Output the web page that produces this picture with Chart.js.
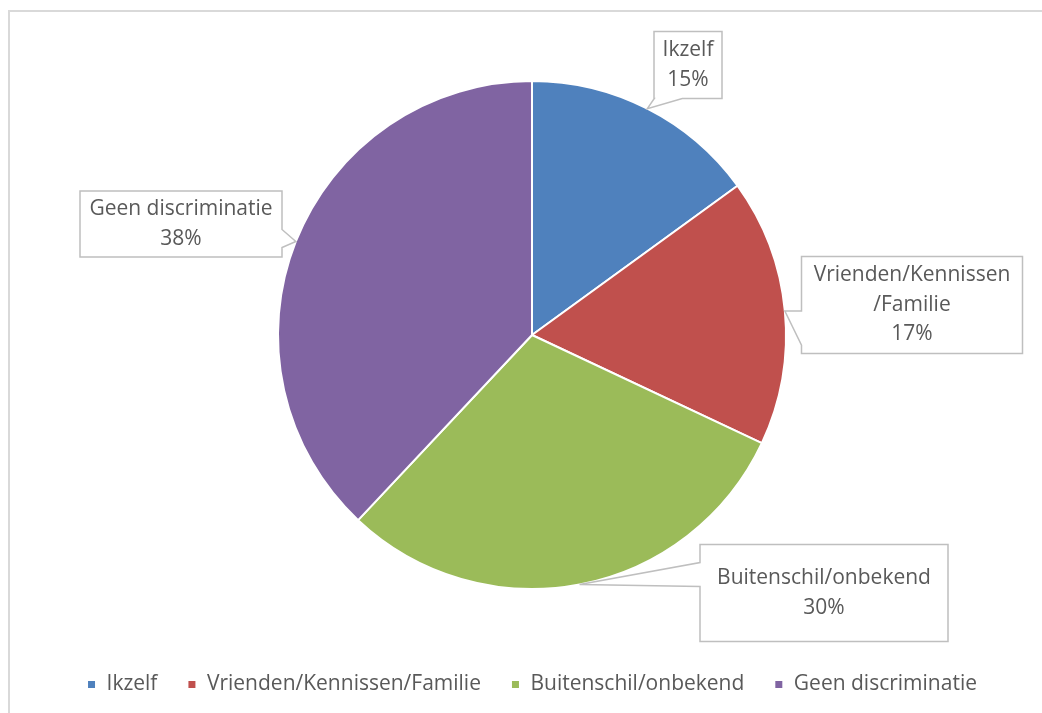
<!DOCTYPE html>
<html>
<head>
<meta charset="utf-8">
<script src="https://cdn.jsdelivr.net/npm/chart.js@4/dist/chart.umd.min.js"></script>
<style>
  html, body { margin: 0; padding: 0; background: #fff; overflow: hidden; }
  #frame { position: absolute; left: 8px; top: 10px; width: 1100px; height: 800px; border: 2px solid #d9d9d9; }
  #wrap { position: absolute; left: 0; top: 0; width: 1042px; height: 713px; }
</style>
</head>
<body>
<div id="frame"></div>
<div id="wrap"><canvas id="pie" width="1042" height="713"></canvas></div>
<script>
const categories = ["Ikzelf", "Vrienden/Kennissen/Familie", "Buitenschil/onbekend", "Geen discriminatie"];
const shares = [15, 17, 30, 38];
const sliceColors = ["#4f81bd", "#c0504d", "#9bbb59", "#8064a2"];

// callout boxes: centre offset from the pie centre, box size,
// wedge base shift (from the tip's projection) and wedge half width
const calloutLayout = [
  { dx: 156, dy: -270, w: 68, h: 67, ws: 21, wh: 14 },
  { dx: 380, dy: -30, w: 221, h: 97, ws: 17, wh: 17 },
  { dx: 292, dy: 258, w: 248, h: 97, ws: -10, wh: 12 },
  { dx: -351, dy: -111, w: 202, h: 66, ws: -3, wh: 9 },
];

const FONT = "'Open Sans', 'Noto Sans', sans-serif";
const TEXT = "#595959";

function wrapLabel(ctx, text, maxW) {
  const parts = text.split(/(?=\/)/);
  const lines = [];
  let cur = "";
  parts.forEach((p) => {
    if (cur && ctx.measureText(cur + p).width > maxW) {
      lines.push(cur);
      cur = p;
    } else {
      cur += p;
    }
  });
  if (cur) lines.push(cur);
  return lines;
}

const calloutPlugin = {
  id: "callouts",
  afterDatasetsDraw(chart) {
    const ctx = chart.ctx;
    const meta = chart.getDatasetMeta(0);
    const total = shares.reduce((a, b) => a + b, 0);
    ctx.save();
    ctx.font = "21px " + FONT;
    meta.data.forEach((arc, i) => {
      const lay = calloutLayout[i];
      const mid = (arc.startAngle + arc.endAngle) / 2;
      const tx = arc.x + Math.cos(mid) * arc.outerRadius;
      const ty = arc.y + Math.sin(mid) * arc.outerRadius;
      const cx = arc.x + lay.dx, cy = arc.y + lay.dy;
      const l = cx - lay.w / 2, r = cx + lay.w / 2, t = cy - lay.h / 2, b = cy + lay.h / 2;
      const half = lay.wh;

      // pick the side facing the tip and build the outline with a wedge
      const pts = [];
      if (ty > b) {
        const m = Math.min(Math.max(tx + lay.ws, l + half), r - half);
        pts.push([l, t], [r, t], [r, b], [m + half, b], [tx, ty], [m - half, b], [l, b]);
      } else if (ty < t) {
        const m = Math.min(Math.max(tx + lay.ws, l + half), r - half);
        pts.push([l, t], [m - half, t], [tx, ty], [m + half, t], [r, t], [r, b], [l, b]);
      } else if (tx < l) {
        const m = Math.min(Math.max(ty + lay.ws, t + half), b - half);
        pts.push([l, t], [r, t], [r, b], [l, b], [l, m + half], [tx, ty], [l, m - half]);
      } else {
        const m = Math.min(Math.max(ty + lay.ws, t + half), b - half);
        pts.push([l, t], [r, t], [r, m - half], [tx, ty], [r, m + half], [r, b], [l, b]);
      }
      ctx.beginPath();
      pts.forEach((p, k) => (k ? ctx.lineTo(p[0], p[1]) : ctx.moveTo(p[0], p[1])));
      ctx.closePath();
      ctx.fillStyle = "#ffffff";
      ctx.fill();
      ctx.lineWidth = 1.5;
      ctx.strokeStyle = "#bfbfbf";
      ctx.stroke();

      const pct = Math.round((shares[i] / total) * 100) + "%";
      const lines = wrapLabel(ctx, categories[i], lay.w - 10).concat([pct]);
      const lh = 29.5;
      ctx.fillStyle = TEXT;
      ctx.textAlign = "center";
      ctx.textBaseline = "middle";
      lines.forEach((ln, k) => {
        ctx.fillText(ln, cx, cy + (k - (lines.length - 1) / 2) * lh);
      });
    });
    ctx.restore();
  },
};

new Chart(document.getElementById("pie"), {
  type: "pie",
  data: {
    labels: categories,
    datasets: [
      {
        data: shares,
        backgroundColor: sliceColors,
        borderColor: "#ffffff",
        borderWidth: 2,
        radius: 254,
      },
    ],
  },
  options: {
    responsive: false,
    animation: false,
    layout: { padding: { top: 26, bottom: 8, left: 30, right: 8 } },
    plugins: {
      tooltip: { enabled: false },
      legend: {
        position: "bottom",
        labels: {
          boxWidth: 9,
          boxHeight: 9,
          padding: 30,
          color: TEXT,
          font: { family: FONT, size: 21 },
        },
      },
    },
  },
  plugins: [calloutPlugin],
});
</script>
</body>
</html>
